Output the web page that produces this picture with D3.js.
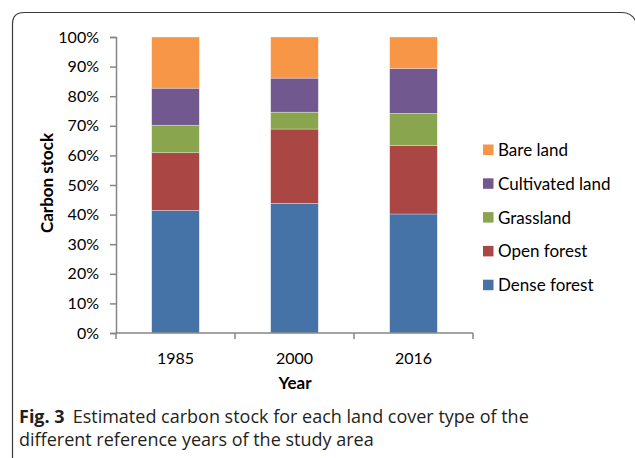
<!DOCTYPE html>
<html>
<head>
<meta charset="utf-8">
<script src="https://cdn.jsdelivr.net/npm/d3@7"></script>
<style>
  html, body { margin: 0; padding: 0; background: #fff; }
  svg { display: block; }
</style>
</head>
<body>
<svg id="chart" width="635" height="458"></svg>
<script>
// ---- data (percent of carbon stock) ----
const years = ["1985", "2000", "2016"];
const seriesNames = ["Dense forest", "Open forest", "Grassland", "Cultivated land", "Bare land"];
const denseForest    = [41.4, 43.8, 40.2];
const openForest     = [19.5, 25.1, 23.1];
const grassland      = [9.3, 5.7, 10.9];
const cultivatedLand = [12.5, 11.5, 15.2];
const bareLand       = [17.3, 13.9, 10.6];
const yTicks = [0, 10, 20, 30, 40, 50, 60, 70, 80, 90, 100];
const seriesColors = ["#4572A7", "#AA4643", "#89A54E", "#71588F", "#F79646"];

const seriesValues = [denseForest, openForest, grassland, cultivatedLand, bareLand];
const table = years.map((y, i) => {
  const row = { year: y };
  seriesNames.forEach((s, j) => { row[s] = seriesValues[j][i]; });
  return row;
});

const svg = d3.select("#chart");
const chartFont = "Lato, 'Liberation Sans', sans-serif";
const capFont = "'Open Sans', 'Noto Sans', sans-serif";

// frame with rounded top corners
svg.append("path")
  .attr("d", "M12.5,470 L12.5,24 Q12.5,12.5 24,12.5 L622,12.5 Q632,12.5 636,22")
  .attr("fill", "none").attr("stroke", "#3a3a3a").attr("stroke-width", 1.2);

const x = d3.scaleBand().domain(years).range([116, 473]).padding(0);
const y = d3.scaleLinear().domain([0, 100]).range([333, 37]);
const barW = x.bandwidth() * 0.4;

const stacked = d3.stack().keys(seriesNames)(table);
const color = d3.scaleOrdinal().domain(seriesNames).range(seriesColors);

svg.append("g").selectAll("g")
  .data(stacked).join("g")
  .attr("fill", d => color(d.key))
  .selectAll("rect")
  .data(d => d).join("rect")
  .attr("x", d => x(d.data.year) + (x.bandwidth() - barW) / 2)
  .attr("y", d => y(d[1]))
  .attr("width", barW)
  .attr("height", d => y(d[0]) - y(d[1]))
  .attr("stroke", "#ffffff").attr("stroke-opacity", 0.5).attr("stroke-width", 0.6);

// y axis
const yAxis = d3.axisLeft(y).tickValues(yTicks).tickSize(6).tickPadding(11)
  .tickFormat(d => d + "%");
const gy = svg.append("g").attr("transform", "translate(116,0)").call(yAxis);
gy.select(".domain").attr("stroke", "#868686").attr("stroke-width", 1.5);
gy.selectAll(".tick line").attr("stroke", "#868686").attr("stroke-width", 1.5);
gy.selectAll("text").attr("font-family", chartFont).attr("font-size", 16).attr("fill", "#000");

// x axis: line and ticks at category boundaries
const gx = svg.append("g");
gx.append("line").attr("x1", x.range()[0]).attr("x2", x.range()[1])
  .attr("y1", y(0)).attr("y2", y(0)).attr("stroke", "#868686").attr("stroke-width", 1.5);
const bounds = years.map(d => x(d)).concat([x.range()[1]]);
gx.selectAll("line.tk").data(bounds).join("line").attr("class", "tk")
  .attr("x1", d => d).attr("x2", d => d)
  .attr("y1", y(0)).attr("y2", y(0) + 6)
  .attr("stroke", "#868686").attr("stroke-width", 1.5);
gx.selectAll("text").data(years).join("text")
  .attr("x", d => x(d) + x.bandwidth() / 2).attr("y", 364)
  .attr("text-anchor", "middle")
  .attr("font-family", chartFont).attr("font-size", 16).attr("fill", "#000")
  .text(d => d);

// axis titles
svg.append("text").attr("x", 295).attr("y", 389).attr("text-anchor", "middle")
  .attr("font-family", chartFont).attr("font-weight", "bold").attr("font-size", 17)
  .text("Year");
svg.append("text").attr("transform", "translate(53,183) rotate(-90)")
  .attr("text-anchor", "middle")
  .attr("font-family", chartFont).attr("font-weight", "bold").attr("font-size", 17)
  .text("Carbon stock");

// legend (reverse order: Bare land on top)
const legendItems = seriesNames.slice().reverse();
const lg = svg.append("g").selectAll("g").data(legendItems).join("g")
  .attr("transform", (d, i) => `translate(483,${150 + i * 33.8})`);
lg.append("rect").attr("x", 0).attr("y", -5.5).attr("width", 10.5).attr("height", 10.5)
  .attr("fill", d => color(d));
lg.append("text").attr("x", 15).attr("y", 6)
  .attr("font-family", chartFont).attr("font-size", 17).attr("fill", "#000")
  .text(d => d);

// caption
const figLbl = svg.append("text").attr("x", 19).attr("y", 423)
  .attr("font-family", capFont).attr("font-size", 18).attr("font-weight", "bold").attr("fill", "#231f20")
  .text("Fig. 3");
const fw = figLbl.node().getComputedTextLength();
svg.append("text").attr("x", 19 + fw + 8).attr("y", 423)
  .attr("font-family", capFont).attr("font-size", 18).attr("fill", "#231f20")
  .text("Estimated carbon stock for each land cover type of the");
svg.append("text").attr("x", 19).attr("y", 446)
  .attr("font-family", capFont).attr("font-size", 18).attr("fill", "#231f20")
  .text("different reference years of the study area");
</script>
</body>
</html>
